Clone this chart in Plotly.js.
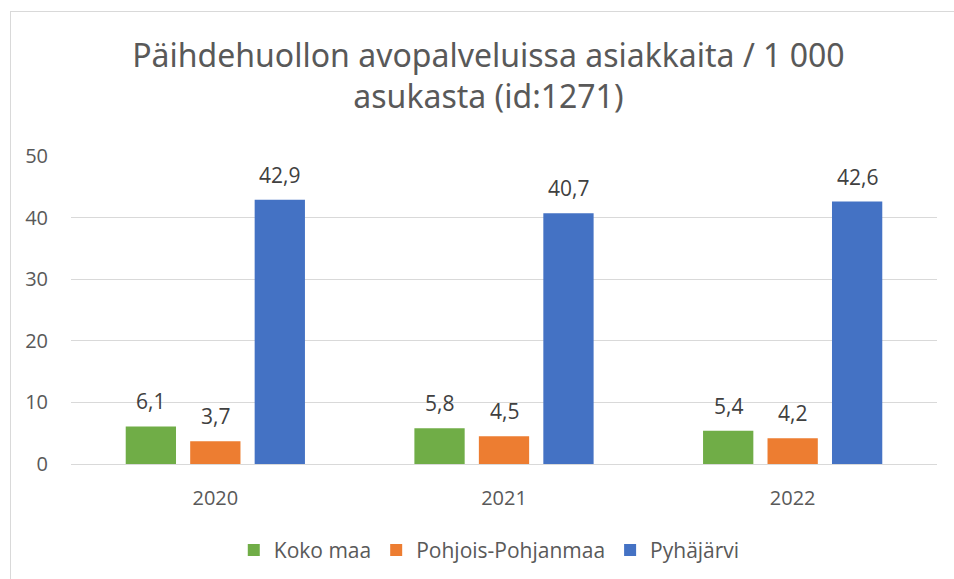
<!DOCTYPE html>
<html><head><meta charset="utf-8">
<script src="https://cdn.plot.ly/plotly-3.0.1.min.js"></script>
<style>
html,body{margin:0;padding:0;background:#fff;}
#wrap{position:relative;width:954px;height:579px;overflow:hidden;}
#chart{position:absolute;left:0;top:0;width:954px;height:579px;}
#frame{position:absolute;left:10px;top:11px;width:960px;height:600px;border:1.5px solid #d9d9d9;pointer-events:none;}
</style></head>
<body><div id="wrap"><div id="chart"></div><div id="frame"></div></div>
<script>
const years = ["2020", "2021", "2022"];
const seriesNames = ["Koko maa", "Pohjois-Pohjanmaa", "Pyhäjärvi"];
const kokoMaa = [6.1, 5.8, 5.4];
const pohjoisPohjanmaa = [3.7, 4.5, 4.2];
const pyhajarvi = [42.9, 40.7, 42.6];
const colors = ["#70AD47", "#ED7D31", "#4472C4"];
const yTicks = [0, 10, 20, 30, 40, 50];

const seriesValues = [kokoMaa, pohjoisPohjanmaa, pyhajarvi];
const fmt = v => v.toFixed(1).replace(".", ",");
const txtColor = "#595959";
const mainFont = "Open Sans, Noto Sans, sans-serif";

const margin = {l: 71, r: 17, t: 156, b: 115, autoexpand: false};
const bargap = 0.33;
const plotW = 954 - margin.l - margin.r;
const slot = plotW / years.length * (1 - bargap) / seriesValues.length;

const traces = seriesValues.map((vals, i) => ({
  type: "bar",
  name: seriesNames[i],
  x: years,
  y: vals,
  marker: {color: colors[i]}
}));

// value labels: x is the category index of each year
const annotations = [];
seriesValues.forEach((vals, i) => {
  vals.forEach((v, j) => {
    annotations.push({
      xref: "x", yref: "y",
      x: j, y: v,
      text: fmt(v), showarrow: false,
      xshift: (i - 1) * slot, yshift: 25,
      xanchor: "center", yanchor: "middle",
      font: {family: mainFont, size: 21, color: "#404040"}
    });
  });
});

const layout = {
  width: 954, height: 579,
  margin: margin,
  paper_bgcolor: "#ffffff",
  plot_bgcolor: "#ffffff",
  barmode: "group",
  bargap: bargap,
  bargroupgap: 0.22,
  title: {
    text: "Päihdehuollon avopalveluissa asiakkaita / 1 000<br>asukasta (id:1271)",
    font: {family: "Noto Sans, sans-serif", size: 32, color: txtColor},
    x: 0.512, xanchor: "center",
    y: 0.885, yanchor: "top"
  },
  xaxis: {
    type: "category",
    range: [-0.5, years.length - 0.5],
    autorange: false,
    tickfont: {family: mainFont, size: 20, color: txtColor},
    ticks: "outside", ticklen: 16, tickcolor: "rgba(255,255,255,0)",
    showgrid: false, zeroline: false, showline: false
  },
  yaxis: {
    range: [0, 50],
    autorange: false,
    tickvals: yTicks,
    tickfont: {family: mainFont, size: 20, color: txtColor},
    ticks: "outside", ticklen: 18, tickcolor: "rgba(255,255,255,0)",
    showgrid: true, gridcolor: "#D9D9D9", gridwidth: 1.3,
    zeroline: true, zerolinecolor: "#D9D9D9", zerolinewidth: 1.3,
    showline: false
  },
  legend: {
    orientation: "h",
    x: 0.483, xanchor: "center",
    y: -0.28, yanchor: "middle",
    font: {family: mainFont, size: 21, color: txtColor}
  },
  annotations: annotations,
  showlegend: true
};

Plotly.newPlot("chart", traces, layout, {displayModeBar: false});
</script></body></html>
